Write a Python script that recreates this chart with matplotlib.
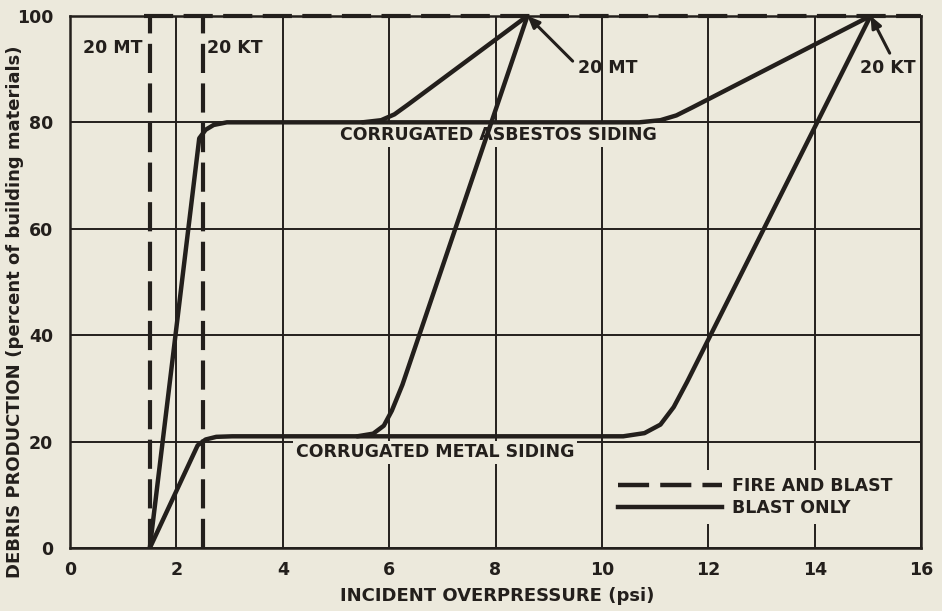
import matplotlib.pyplot as plt
from matplotlib.lines import Line2D

BG = "#ece9dc"
INK = "#231f1c"

# blast only curves (psi, percent)
asbestos_kt_x = [1.5, 2.43, 2.55, 2.7, 2.95, 10.7, 11.1, 11.4, 11.7, 15.05]
asbestos_kt_y = [0, 77, 78.6, 79.5, 80, 80, 80.4, 81.3, 82.8, 100]
asbestos_mt_x = [5.5, 5.85, 6.1, 6.35, 8.6]
asbestos_mt_y = [80, 80.4, 81.5, 83.3, 100]
metal_kt_x = [1.5, 2.4, 2.55, 2.75, 3.05, 10.4, 10.8, 11.1, 11.35, 11.6, 15.05]
metal_kt_y = [0, 19.3, 20.4, 20.9, 21, 21, 21.6, 23.2, 26.5, 31.2, 100]
metal_mt_x = [5.4, 5.7, 5.9, 6.05, 6.25, 8.6]
metal_mt_y = [21, 21.5, 23, 25.8, 30.7, 100]

# fire and blast limits
fire_mt_psi = 1.5
fire_kt_psi = 2.5
fire_top = 100

x_ticks = [0, 2, 4, 6, 8, 10, 12, 14, 16]
y_ticks = [0, 20, 40, 60, 80, 100]

plt.rcParams["font.family"] = "DejaVu Sans"
plt.rcParams["font.weight"] = "bold"

fig = plt.figure(figsize=(9.42, 6.11), dpi=100, facecolor=BG)
ax = fig.add_axes([0.0743, 0.103, 0.9035, 0.871], facecolor=BG)

ax.set_xlim(0, 16)
ax.set_ylim(0, 100)
ax.set_xticks(x_ticks)
ax.set_yticks(y_ticks)
ax.tick_params(length=0, labelsize=12.5, colors=INK)
ax.tick_params(axis="y", pad=12)
ax.tick_params(axis="x", pad=9)
ax.set_axisbelow(True)
ax.grid(True, color=INK, lw=1.4)
for s in ax.spines.values():
    s.set_color(INK)
    s.set_linewidth(1.8)

# solid curves (blast only)
for xs, ys in [(asbestos_kt_x, asbestos_kt_y), (asbestos_mt_x, asbestos_mt_y),
               (metal_kt_x, metal_kt_y), (metal_mt_x, metal_mt_y)]:
    ax.plot(xs, ys, color=INK, lw=3.2, solid_capstyle="round",
            solid_joinstyle="round", zorder=4)

# dashed (fire and blast)
dash = (7, 2.5)
ax.plot([fire_mt_psi, fire_mt_psi], [0, fire_top], color=INK, lw=3, dashes=dash, zorder=4)
ax.plot([fire_kt_psi, fire_kt_psi], [0, fire_top], color=INK, lw=3, dashes=dash, zorder=4)
ax.plot([fire_mt_psi - 0.1, 16], [fire_top, fire_top], color=INK, lw=3, dashes=dash,
        zorder=4, clip_on=False)

box = dict(boxstyle="square,pad=0.15", fc=BG, ec="none")
fs = 12.5
ax.text(5.07, 77.6, "CORRUGATED ASBESTOS SIDING", fontsize=fs, color=INK,
        ha="left", va="center", bbox=box, zorder=3)
ax.text(4.25, 18.0, "CORRUGATED METAL SIDING", fontsize=fs, color=INK,
        ha="left", va="center", bbox=box, zorder=3)
ax.text(1.37, 94, "20 MT", fontsize=fs, color=INK, ha="right", va="center")
ax.text(2.58, 94, "20 KT", fontsize=fs, color=INK, ha="left", va="center")

arrow = dict(arrowstyle="-|>,head_length=0.7,head_width=0.3", color=INK, lw=2.2,
             shrinkA=0, shrinkB=0)
ax.annotate("", xy=(8.6, 100), xytext=(9.45, 91.5), arrowprops=arrow, zorder=5)
ax.text(9.55, 90.2, "20 MT", fontsize=fs, color=INK, ha="left", va="center")
ax.annotate("", xy=(15.05, 100), xytext=(15.41, 93), arrowprops=arrow, zorder=5)
ax.text(14.85, 90.2, "20 KT", fontsize=fs, color=INK, ha="left", va="center")

handles = [Line2D([], [], color=INK, lw=3.2, dashes=(7, 2.5)),
           Line2D([], [], color=INK, lw=3.2)]
leg = ax.legend(handles, ["FIRE AND BLAST", "BLAST ONLY"], loc="lower left",
                bbox_to_anchor=(0.636, 0.045), borderaxespad=0, frameon=True,
                facecolor=BG, edgecolor="none", framealpha=1, handlelength=6,
                handletextpad=0.55, labelspacing=0.25, borderpad=0.4,
                prop=dict(size=fs, weight="bold"))
for t in leg.get_texts():
    t.set_color(INK)
leg.get_frame().set_linewidth(0)

# axis titles, part in parentheses set a bit lighter
xl = ax.text(0.317, -0.09, "INCIDENT OVERPRESSURE", transform=ax.transAxes,
             fontsize=13, color=INK, ha="left", va="center")
ax.annotate(" (psi)", xy=(1, 0), xycoords=xl, fontsize=13, color=INK,
            ha="left", va="bottom")
yl = ax.text(-0.0646, -0.056, "DEBRIS PRODUCTION", transform=ax.transAxes,
             fontsize=13, color=INK, ha="center", va="bottom", rotation=90)
ax.annotate(" (percent of building materials)", xy=(1, 1), xycoords=yl,
            fontsize=13, color=INK, ha="right", va="bottom", rotation=90)

fig.savefig("out.png", dpi=100, facecolor=BG)
